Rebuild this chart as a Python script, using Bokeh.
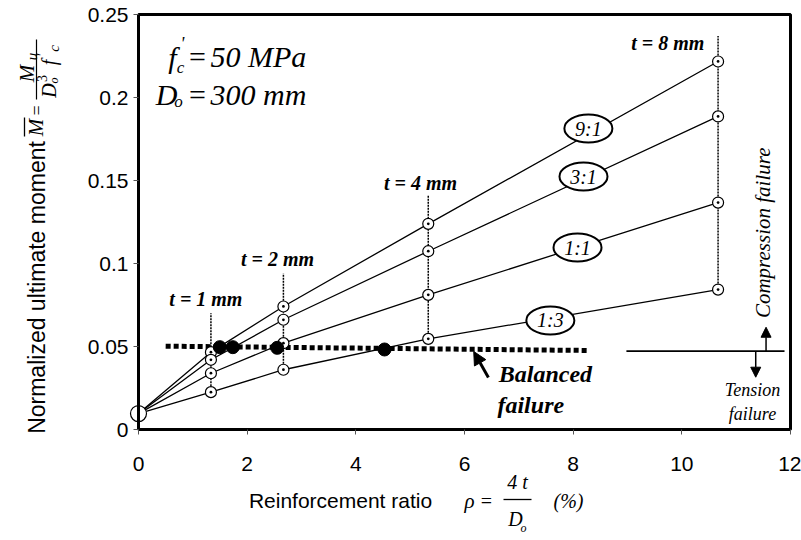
import math
from bokeh.plotting import figure
from bokeh.models import Label, Arrow, NormalHead, FixedTicker, Range1d
from bokeh.core.properties import value
from bokeh.embed import file_html
from bokeh.resources import INLINE

# ---------------- data ----------------
rho = [0.0, 1.333, 2.667, 5.333, 10.667]          # reinforcement ratio (%)
m_9_1 = [0.0096, 0.0466, 0.0741, 0.1239, 0.2217]
m_3_1 = [0.0096, 0.0420, 0.0661, 0.1074, 0.1886]
m_1_1 = [0.0096, 0.0339, 0.0520, 0.0811, 0.1367]
m_1_3 = [0.0096, 0.0225, 0.0360, 0.0546, 0.0843]
series_names = ["9:1", "3:1", "1:1", "1:3"]
series_label_x = [8.28, 8.19, 8.08, 7.58]
series_label_y = [0.1813, 0.1524, 0.1096, 0.0657]

thickness_labels = ["t = 1 mm", "t = 2 mm", "t = 4 mm", "t = 8 mm"]
thickness_top = [0.070, 0.094, 0.141, 0.237]
thickness_label_x = [1.24, 2.56, 5.19, 9.74]
thickness_label_y = [0.0789, 0.1030, 0.1482, 0.2331]

balanced_rho = [1.496, 1.736, 2.553, 4.528]
balanced_m = [0.0496, 0.0496, 0.0492, 0.0482]
balanced_line_rho = [0.5, 8.3]
balanced_line_m = [0.0502, 0.0476]
limit_line_rho = [8.98, 11.89]
limit_line_m = [0.0472, 0.0472]

x_ticks = [0, 2, 4, 6, 8, 10, 12]
x_tick_labels = ["0", "2", "4", "6", "8", "10", "12"]
y_ticks = [0, 0.05, 0.1, 0.15, 0.2, 0.25]
y_tick_labels = ["0", "0.05", "0.1", "0.15", "0.2", "0.25"]

SERIF = "Liberation Serif"
SANS = "Liberation Sans"
W, H = 801, 540
FL, FT, FR, FB = 138, 14, 790, 429   # plot box edges in picture pixels
XMIN, XMAX, YMIN, YMAX = 0.0, 12.0, 0.0, 0.25
kx = (FR - FL) / (XMAX - XMIN)
ky = (FB - FT) / (YMAX - YMIN)

# the frame fills the whole canvas; the data box sits inside it
p = figure(width=W, height=H,
           x_range=Range1d(XMIN - FL / kx, XMAX + (W - FR) / kx),
           y_range=Range1d(YMIN - (H - FB) / ky, YMAX + FT / ky),
           output_backend="svg", toolbar_location=None,
           min_border_left=0, min_border_right=0, min_border_top=0, min_border_bottom=0)
p.grid.visible = False
p.outline_line_color = None
p.background_fill_color = "white"
p.border_fill_color = "white"

p.xaxis.ticker = FixedTicker(ticks=x_ticks)
p.xaxis.major_label_overrides = dict(zip(x_ticks, x_tick_labels))
p.xaxis.fixed_location = YMIN
p.yaxis.ticker = FixedTicker(ticks=y_ticks)
p.yaxis.major_label_overrides = dict(zip(y_ticks, y_tick_labels))
p.yaxis.fixed_location = XMIN
for ax in (p.xaxis, p.yaxis):
    ax.axis_line_color = None
    ax.major_tick_in = 0
    ax.major_tick_out = 5
    ax.major_tick_line_color = "#555555"
    ax.minor_tick_line_color = None
    ax.major_label_text_font = SANS
    ax.major_label_text_font_size = "21px"
    ax.major_label_text_color = "black"
p.xaxis.major_label_standoff = 22
p.yaxis.major_label_standoff = 5

# vertical dotted thickness lines
for xv, top, bot in zip(rho[1:], thickness_top, m_1_3[1:]):
    p.line([xv, xv], [bot, top], line_color="black", line_width=1.5, line_dash="2 1")

series = [m_9_1, m_3_1, m_1_1, m_1_3]
for s in series:
    p.line(rho, s, line_color="black", line_width=1.3)

# balanced failure line and compression / tension divider
p.line(balanced_line_rho, balanced_line_m, line_color="black", line_width=5, line_dash="5 3")
p.line(limit_line_rho, limit_line_m, line_color="black", line_width=1.8)

for s in series:
    p.scatter(rho[1:], s[1:], marker="circle_dot", size=11, fill_color="white",
              line_color="black", line_width=1.2)
p.scatter([rho[0]], [m_9_1[0]], marker="circle", size=16, fill_color="white",
          line_color="black", line_width=1.2)
p.scatter(balanced_rho, balanced_m, marker="circle", size=13, fill_color="black", line_color="black")

# plot box
p.quad(left=[XMIN], right=[XMAX], bottom=[YMIN], top=[YMAX], fill_color=None,
       line_color="black", line_width=3)

# ratio ellipses
p.ellipse(series_label_x, series_label_y, width=48, height=28, width_units="screen",
          height_units="screen", fill_color="white", line_color="black", line_width=2)
p.text(series_label_x, series_label_y, text=series_names, text_font=value(SERIF),
       text_font_style="italic", text_font_size="20px", text_align="center",
       text_baseline="middle", text_color="black")

p.text(thickness_label_x, thickness_label_y, text=thickness_labels, text_font=value(SERIF),
       text_font_style="bold italic", text_font_size="20px", text_align="center",
       text_baseline="middle", text_color="black")

p.text([7.49, 7.22], [0.0337, 0.0145], text=["Balanced", "failure"], text_font=value(SERIF),
       text_font_style="bold italic", text_font_size="24px", text_align="center",
       text_baseline="middle", text_color="black")
p.text([11.30, 11.30], [0.0235, 0.0092], text=["Tension", "failure"], text_font=value(SERIF),
       text_font_style="italic", text_font_size="18px", text_align="center",
       text_baseline="middle", text_color="black")
p.text([11.5], [0.1185], text=["Compression failure"], angle=math.pi / 2, text_font=value(SERIF),
       text_font_style="italic", text_font_size="21px", text_align="center",
       text_baseline="middle", text_color="black")

# arrows
p.add_layout(Arrow(end=NormalHead(size=10, fill_color="black", line_color="black"),
                   x_start=11.55, y_start=0.0472, x_end=11.55, y_end=0.0616,
                   line_color="black", line_width=1.5))
p.add_layout(Arrow(end=NormalHead(size=10, fill_color="black", line_color="black"),
                   x_start=11.36, y_start=0.0472, x_end=11.36, y_end=0.0315,
                   line_color="black", line_width=1.5))
p.add_layout(Arrow(end=NormalHead(size=13, fill_color="black", line_color="black"),
                   x_start=6.44, y_start=0.0313, x_end=6.17, y_end=0.0470,
                   line_color="black", line_width=3))


# screen units are measured from the frame's (= canvas) bottom-left corner
def slabel(ix, iy, text, size, font=SERIF, style="italic", align="center", angle=0.0):
    p.add_layout(Label(x=ix, y=H - iy, x_units="screen", y_units="screen", text=text,
                       text_font=font, text_font_style=style, text_font_size=f"{size}px",
                       text_align=align, text_baseline="middle", angle=angle,
                       text_color="black"))


def sline(ix0, iy0, ix1, iy1, w=1.3):
    p.add_layout(Arrow(end=None, x_start=ix0, y_start=H - iy0, x_end=ix1,
                       y_end=H - iy1, start_units="screen", end_units="screen",
                       line_color="black", line_width=w))


# f'c = 50 MPa / Do = 300 mm
slabel(172, 57, "f", 30)
slabel(182, 43, "'", 18)
slabel(180, 67, "c", 17)
slabel(197, 56, "=", 30, style="normal")
slabel(210, 56, "50 MPa", 30, align="left")
slabel(166, 94, "D", 30)
slabel(178, 101, "o", 17)
slabel(197, 94, "=", 30, style="normal")
slabel(210, 94, "300 mm", 30, align="left")

# x-axis title
slabel(340, 500, "Reinforcement ratio", 21, font=SANS, style="normal")
slabel(469, 500, "ρ", 21)
slabel(486, 500, "=", 20, style="normal")
slabel(517, 481, "4 t", 20)
sline(503, 499, 531, 499)
slabel(515, 518, "D", 20)
slabel(523, 527, "o", 12)
slabel(568, 500, "(%)", 20)

R = math.pi / 2
# y-axis title
slabel(36, 287, "Normalized ultimate moment", 23, font=SANS, style="normal", angle=R)
slabel(35, 127, "M", 21, angle=R)
sline(24, 117, 24, 136)
slabel(36, 110, "=", 18, style="normal", angle=R)
slabel(26, 73, "M", 21, angle=R)
slabel(31, 56, "u", 15, angle=R)
sline(36, 39, 36, 99, w=1.2)
slabel(48, 90, "D", 20, angle=R)
slabel(53, 80, "o", 12, angle=R)
slabel(41, 78, "3", 14, style="normal", angle=R)
slabel(48, 62, "f", 20, angle=R)
slabel(41, 55, "'", 15, angle=R)
slabel(53, 48, "c", 15, angle=R)

open("out.html", "w").write(file_html(p, INLINE))
